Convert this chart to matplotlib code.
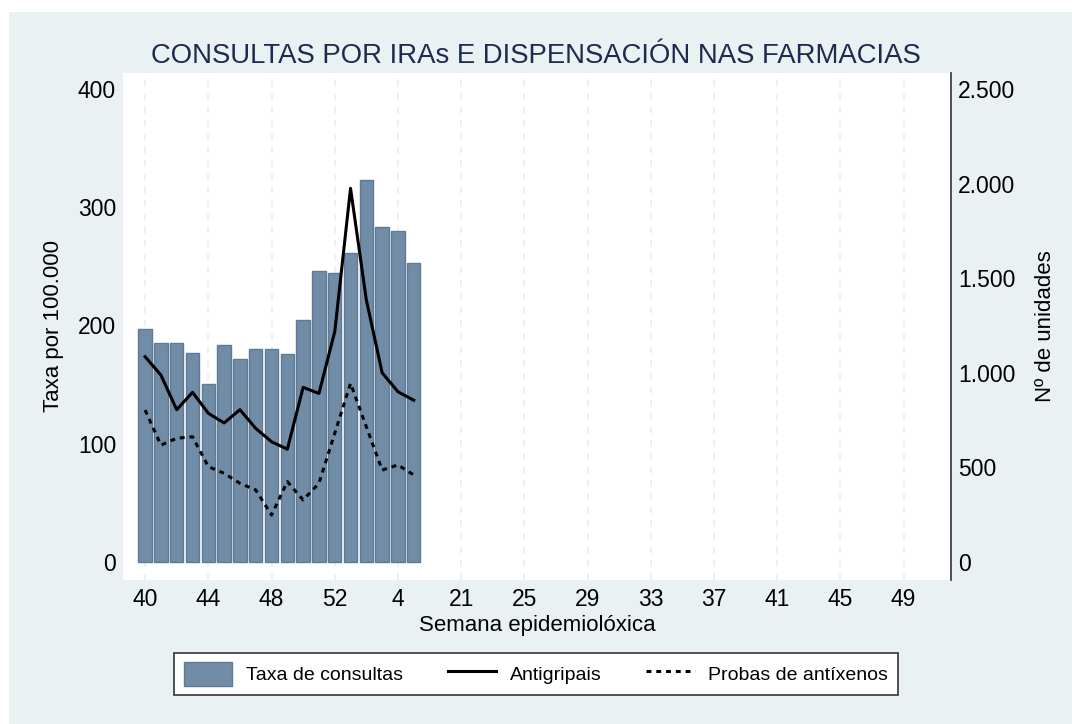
import numpy as np
import matplotlib
matplotlib.use('Agg')
import matplotlib.pyplot as plt
import matplotlib.ticker as tk
from matplotlib.patches import Patch
from matplotlib.lines import Line2D

plt.rcParams['font.family'] = ['Liberation Sans', 'DejaVu Sans']

# Weeks 40..52 then 1..5 (season index on the x axis)
weeks = [40, 41, 42, 43, 44, 45, 46, 47, 48, 49, 50, 51, 52, 1, 2, 3, 4, 5]
# Taxa de consultas por 100.000 (left axis)
taxa = [197, 185, 185, 176.5, 150.5, 183.5, 171.5, 180, 180, 176, 204.5,
        246, 244.5, 261, 323, 283, 279.5, 253]
# Antigripais, units (right axis)
antigripais = [1085, 988, 805, 897, 786, 735, 805, 706, 636, 596, 923,
               891, 1217, 1975, 1385, 1000, 900, 855]
# Probas de antixenos, units (right axis)
probas = [803, 618, 654, 662, 504, 469, 416, 381, 248, 425, 328,
          416, 680, 944, 715, 486, 513, 460]
# x tick labels as printed on the original
xtick_labels = ['40', '44', '48', '52', '4', '21', '25', '29', '33', '37', '41', '45', '49']

BG = '#EAF1F3'
BAR = '#718CA6'
BAR_EDGE = '#5F7A95'

fig = plt.figure(figsize=(10.72, 7.24), dpi=100)
fig.patch.set_facecolor('white')
# light panel behind everything, leaving a thin white margin top/left
fig.patches.append(matplotlib.patches.Rectangle((9/1072, 0), 1 - 9/1072, 1 - 12/724,
                   transform=fig.transFigure, facecolor=BG, edgecolor='none', zorder=-10))

ax = fig.add_axes([123/1072, 1 - 580/724, (951 - 123)/1072, (580 - 73)/724])
ax.set_facecolor('white')
x = np.arange(len(weeks))
ax.bar(x, taxa, width=0.85, color=BAR, edgecolor=BAR_EDGE, linewidth=1.0, zorder=2)

ax.set_xlim(-1.4, 51.0)
ax.set_ylim(-15.2, 413.5)
ax.set_xticks(np.arange(0, 49, 4))
ax.set_xticklabels(xtick_labels)
ax.set_yticks([0, 100, 200, 300, 400])
ax.tick_params(axis='both', length=0, labelsize=16.5, colors='black')
ax.tick_params(axis='y', pad=5)
ax.tick_params(axis='x', pad=6)
ax.xaxis.grid(True, color='#E6EEF1', linestyle=(0, (4, 4)), linewidth=1.2, zorder=0)
ax.set_axisbelow(True)
for sp in ax.spines.values():
    sp.set_visible(False)
ax.set_ylabel('Taxa por 100.000', fontsize=16, labelpad=10)
ax.set_xlabel('Semana epidemiolóxica', fontsize=16, labelpad=3)

ax2 = ax.twinx()
ax2.plot(x, antigripais, color='black', lw=2.2, zorder=3)
ax2.plot(x, probas, color='black', lw=2.2, linestyle=(0, (1.6, 1.6)), zorder=3)
ax2.set_ylim(-15.2 * 6.25, 413.5 * 6.25)
ax2.set_yticks([0, 500, 1000, 1500, 2000, 2500])
ax2.yaxis.set_major_formatter(tk.FuncFormatter(lambda v, p: f'{int(v):,}'.replace(',', '.')))
ax2.tick_params(axis='y', length=0, labelsize=16.5, pad=5)
for k in ['left', 'top', 'bottom']:
    ax2.spines[k].set_visible(False)
ax2.spines['right'].set_color('#444444')
ax2.spines['right'].set_linewidth(1.3)
ax2.set_ylabel('Nº de unidades', fontsize=16, labelpad=14)

fig.text(536/1072, 1 - 56/724, 'CONSULTAS POR IRAs E DISPENSACIÓN NAS FARMACIAS',
         ha='center', va='center', fontsize=19.8, color='#1E2B4F')

handles = [Patch(facecolor=BAR, edgecolor=BAR_EDGE, label='Taxa de consultas'),
           Line2D([], [], color='black', lw=2.2, label='Antigripais'),
           Line2D([], [], color='black', lw=2.2, linestyle=(0, (1.6, 1.6)), label='Probas de antíxenos')]
leg = fig.legend(handles=handles, ncol=3, loc='center', bbox_to_anchor=(536/1072, 1 - 674/724),
                 fontsize=14, frameon=True, fancybox=False, edgecolor='#333333', facecolor='white',
                 framealpha=1, handlelength=2.5, handleheight=1.45, handletextpad=0.7,
                 columnspacing=2.3, borderpad=0.5)
leg.get_frame().set_linewidth(1.2)

fig.savefig('out.png', dpi=100, facecolor=fig.get_facecolor())
